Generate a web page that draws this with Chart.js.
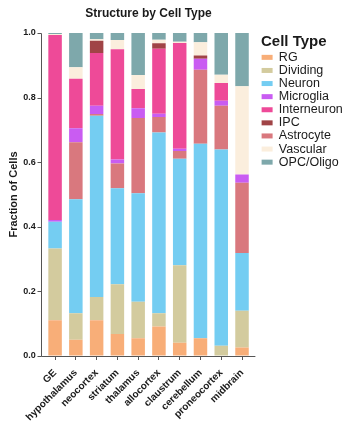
<!DOCTYPE html>
<html>
<head>
<meta charset="utf-8">
<script src="https://cdn.jsdelivr.net/npm/chart.js@4.4.1/dist/chart.umd.min.js"></script>
<style>
  html, body { margin: 0; padding: 0; background: #ffffff; }
  #wrap { width: 343px; height: 421px; }
</style>
</head>
<body>
<div id="wrap"><canvas id="chart" width="343" height="421"></canvas></div>
<script>
// Brain structures along the x axis
const structures = ['GE', 'hypothalamus', 'neocortex', 'striatum', 'thalamus',
  'allocortex', 'claustrum', 'cerebellum', 'proneocortex', 'midbrain'];

// Cell types in legend order
const cellTypes = ['RG', 'Dividing', 'Neuron', 'Microglia', 'Interneuron',
  'IPC', 'Astrocyte', 'Vascular', 'OPC/Oligo'];

// Cell types in stacking order, bottom to top
const stackOrder = ['RG', 'Dividing', 'Neuron', 'Astrocyte', 'Microglia',
  'Interneuron', 'IPC', 'Vascular', 'OPC/Oligo'];

// Fraction of cells of each type per structure
const rg          = [0.111, 0.050, 0.111, 0.068, 0.055, 0.091, 0.041, 0.055, 0.000, 0.026];
const dividing    = [0.222, 0.082, 0.072, 0.154, 0.113, 0.041, 0.240, 0.000, 0.032, 0.114];
const neuron      = [0.083, 0.353, 0.561, 0.297, 0.336, 0.560, 0.330, 0.602, 0.607, 0.179];
const astrocyte   = [0.000, 0.177, 0.005, 0.077, 0.233, 0.048, 0.024, 0.229, 0.136, 0.217];
const microglia   = [0.005, 0.043, 0.026, 0.012, 0.030, 0.010, 0.007, 0.034, 0.015, 0.026];
const interneuron = [0.573, 0.153, 0.163, 0.342, 0.060, 0.201, 0.327, 0.000, 0.055, 0.000];
const ipc         = [0.000, 0.000, 0.038, 0.000, 0.000, 0.017, 0.000, 0.010, 0.000, 0.000];
const vascular    = [0.003, 0.036, 0.005, 0.028, 0.043, 0.011, 0.004, 0.041, 0.026, 0.273];
const opcOligo    = [0.003, 0.106, 0.019, 0.022, 0.130, 0.021, 0.027, 0.029, 0.129, 0.165];

// Y axis tick values
const yTicks = [0, 0.2, 0.4, 0.6, 0.8, 1.0];

const seriesByType = {
  'RG': rg, 'Dividing': dividing, 'Neuron': neuron, 'Microglia': microglia,
  'Interneuron': interneuron, 'IPC': ipc, 'Astrocyte': astrocyte,
  'Vascular': vascular, 'OPC/Oligo': opcOligo
};

const palette = {
  'RG': '#F8AE78',
  'Dividing': '#D3CB9E',
  'Neuron': '#74CDF2',
  'Microglia': '#C95CF2',
  'Interneuron': '#EE4A98',
  'IPC': '#A04446',
  'Astrocyte': '#D9787E',
  'Vascular': '#FBEEDD',
  'OPC/Oligo': '#7EA8AB'
};

const axisColor = '#555555';
const textColor = '#1a1a1a';

Chart.defaults.font.family = "'Liberation Sans', Arial, Helvetica, sans-serif";
Chart.defaults.color = textColor;

// Draws the left axis line (set slightly apart from the first bar), its ticks,
// and the baseline under the bars.
const axisFrame = {
  id: 'axisFrame',
  afterDraw(chart) {
    const { ctx, chartArea, scales } = chart;
    const yScale = scales.y;
    const x0 = Math.round(chartArea.left - 4) + 0.5;
    const yBase = Math.round(yScale.getPixelForValue(0)) + 0.5;
    const yTop = Math.round(yScale.getPixelForValue(1)) + 0.5;
    ctx.save();
    ctx.strokeStyle = axisColor;
    ctx.lineWidth = 1;
    ctx.beginPath();
    ctx.moveTo(x0, yTop);
    ctx.lineTo(x0, yBase);
    ctx.lineTo(chartArea.right + 3, yBase);
    yTicks.forEach(v => {
      const py = Math.round(yScale.getPixelForValue(v)) + 0.5;
      ctx.moveTo(x0 - 4, py);
      ctx.lineTo(x0, py);
    });
    ctx.stroke();
    ctx.restore();
  }
};

const datasets = stackOrder.map(name => ({
  label: name,
  data: seriesByType[name],
  backgroundColor: palette[name],
  borderWidth: 0,
  barPercentage: 0.65,
  categoryPercentage: 1.0
}));

new Chart(document.getElementById('chart'), {
  type: 'bar',
  data: { labels: structures, datasets },
  plugins: [axisFrame],
  options: {
    responsive: false,
    devicePixelRatio: 1,
    animation: false,
    layout: { padding: 0 },
    plugins: {
      title: {
        display: true,
        text: 'Structure by Cell Type',
        fullSize: false,
        color: textColor,
        font: { size: 12, weight: 'bold' },
        padding: { top: 6.6, bottom: 12 }
      },
      legend: {
        position: 'right',
        align: 'start',
        maxWidth: 82,
        title: {
          display: true,
          text: 'Cell Type',
          position: 'start',
          color: textColor,
          font: { size: 15, weight: 'bold', lineHeight: 1.1 },
          padding: { top: 34, bottom: 0 }
        },
        labels: {
          boxWidth: 11,
          boxHeight: 5,
          padding: 0.6,
          color: textColor,
          font: { size: 12.5 },
          sort: (a, b) => cellTypes.indexOf(a.text) - cellTypes.indexOf(b.text)
        }
      },
      tooltip: { enabled: false }
    },
    scales: {
      x: {
        stacked: true,
        offset: true,
        grid: {
          display: true,
          offset: false,
          drawOnChartArea: false,
          drawTicks: true,
          tickLength: 4,
          color: axisColor
        },
        border: { display: false },
        ticks: {
          autoSkip: false,
          minRotation: 45,
          maxRotation: 45,
          padding: 7,
          color: textColor,
          font: { size: 10, weight: 'bold' }
        },
        afterFit: s => { s.height = 65; }
      },
      y: {
        stacked: true,
        min: 0,
        max: 1,
        afterBuildTicks: s => { s.ticks = yTicks.map(v => ({ value: v })); },
        ticks: {
          padding: 9,
          color: textColor,
          font: { size: 9, weight: 'bold' },
          callback: v => Number(v).toFixed(1)
        },
        grid: { display: true, drawOnChartArea: false, drawTicks: false },
        border: { display: false },
        title: {
          display: true,
          text: 'Fraction of Cells',
          color: textColor,
          font: { size: 11, weight: 'bold' },
          padding: { top: 7, bottom: 0 }
        },
        afterFit: s => { s.width = 44.7; }
      },
      gap: {
        type: 'linear',
        axis: 'y',
        position: 'right',
        display: true,
        ticks: { display: false },
        grid: { display: false },
        border: { display: false },
        afterFit: s => { s.width = 8.6; }
      }
    }
  }
});
</script>
</body>
</html>
